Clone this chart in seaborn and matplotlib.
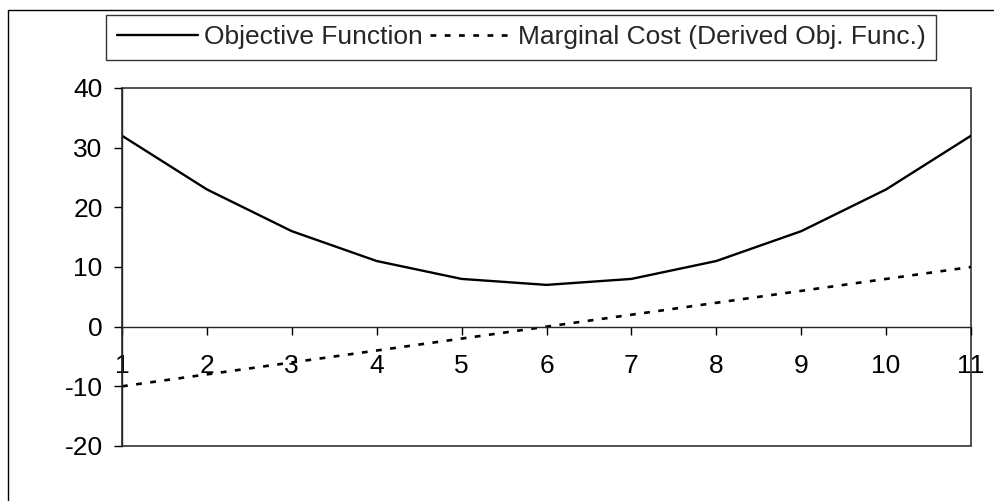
import numpy as np
import pandas as pd
import matplotlib
matplotlib.use("Agg")
import matplotlib.pyplot as plt
import seaborn as sns
from matplotlib.lines import Line2D
from matplotlib.patches import Rectangle

sns.set_style("white")
plt.rcParams['font.family'] = ['Liberation Sans', 'DejaVu Sans']
plt.rcParams['axes.unicode_minus'] = False

# data
x_vals = [1, 2, 3, 4, 5, 6, 7, 8, 9, 10, 11]
objective = [32, 23, 16, 11, 8, 7, 8, 11, 16, 23, 32]
marginal = [-10, -8, -6, -4, -2, 0, 2, 4, 6, 8, 10]
y_ticks = [-20, -10, 0, 10, 20, 30, 40]

df = pd.DataFrame({'x': x_vals, 'obj': objective, 'mc': marginal})

fig = plt.figure(figsize=(9.95, 5.01), dpi=100)
ax = fig.add_axes([0.1226, 0.1098, 0.8533, 0.7146])

dots = (0, (2.2, 3.2))
sns.lineplot(data=df, x='x', y='obj', ax=ax, color='black', lw=1.7)
sns.lineplot(data=df, x='x', y='mc', ax=ax, color='black', lw=1.9, linestyle=dots)

ax.set_xlim(1, 11)
ax.set_ylim(-20, 40)
ax.set_yticks(y_ticks)
ax.set_xticks(x_vals)
ax.set_xlabel('')
ax.set_ylabel('')

# x axis sits on zero, box drawn separately
ax.spines['bottom'].set_position(('data', 0))
ax.spines['bottom'].set_linewidth(1.0)
ax.spines['left'].set_linewidth(1.0)
ax.spines['top'].set_visible(False)
ax.spines['right'].set_visible(False)
ax.add_patch(Rectangle((0, 0), 1, 1, transform=ax.transAxes, fill=False,
                       edgecolor='#333333', lw=1.2, clip_on=False, zorder=0))

ax.tick_params(axis='x', direction='out', length=6, width=1, pad=14,
               labelsize=19, bottom=True, colors='black')
ax.tick_params(axis='y', direction='out', length=6, width=1, pad=8,
               labelsize=19, left=True, colors='black')
for lab in ax.get_xticklabels():
    lab.set_zorder(5)

handles = [Line2D([], [], color='black', lw=1.7),
           Line2D([], [], color='black', lw=1.9, linestyle=dots)]
labels = ['Objective Function', 'Marginal Cost (Derived Obj. Func.)']
leg = fig.legend(handles, labels, loc='center', bbox_to_anchor=(0.5236, 0.926),
                 ncol=2, fontsize=19, frameon=True, fancybox=False, shadow=False,
                 handlelength=3.1, handletextpad=0.2, columnspacing=0.3,
                 borderpad=0.4)
leg.get_frame().set_edgecolor('black')
leg.get_frame().set_linewidth(1.0)

# outer chart frame (top and left visible)
fig.add_artist(Line2D([8 / 995, 1], [1 - 10 / 501, 1 - 10 / 501],
                      transform=fig.transFigure, color='black', lw=1))
fig.add_artist(Line2D([8 / 995, 8 / 995], [0, 1 - 10 / 501],
                      transform=fig.transFigure, color='black', lw=1))

fig.savefig('out.png', dpi=100)
